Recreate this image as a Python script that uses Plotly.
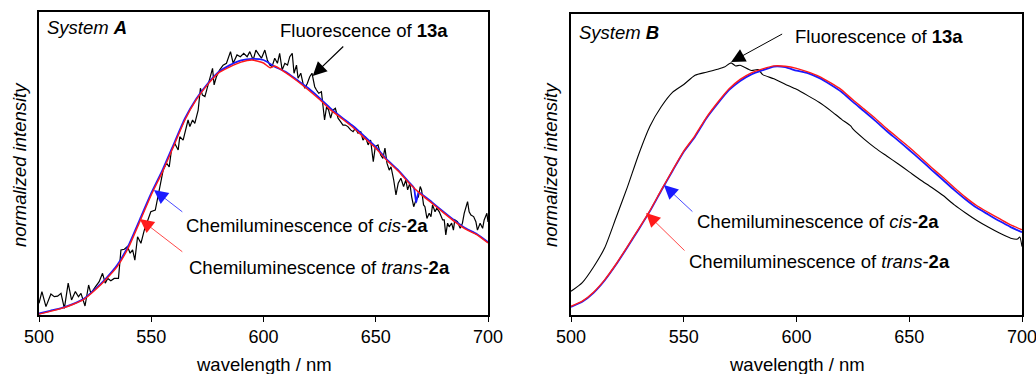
import plotly.graph_objects as go

# ---------------- Panel A (System A) ----------------
wl_A_fluor = [500.0, 501.3, 503.1, 505.3, 506.8, 508.3, 509.8, 511.3, 513.0, 514.5, 516.2, 517.6, 518.7,
              520.5, 522.1, 523.1, 525.1, 526.8, 528.3, 529.5, 530.6, 532.0, 533.5, 535.4, 536.5, 538.0,
              539.4, 540.6, 541.7, 542.7, 543.9, 545.4, 546.9, 548.3, 549.8, 551.8, 553.8, 555.3, 556.8,
              558.0, 559.0, 560.5, 562.0, 562.7, 564.2, 564.9, 566.4, 567.2, 568.4, 569.4, 570.9, 571.9,
              572.8, 573.9, 575.3, 576.4, 577.3, 578.0, 579.0, 580.5, 582.0, 583.5, 584.7, 585.3, 586.5,
              588.2, 589.7, 591.2, 592.7, 593.9, 595.4, 596.6, 598.0, 599.1, 600.6, 601.7, 602.8, 603.8,
              605.0, 606.2, 607.2, 608.3, 609.5, 610.7, 611.7, 612.8, 613.6, 614.7, 615.4, 616.6, 617.6,
              618.4, 619.5, 620.6, 621.6, 622.8, 623.6, 624.6, 625.8, 626.5, 627.2, 628.1, 629.0, 629.9,
              630.9, 632.0, 633.2, 634.4, 635.4, 636.4, 637.6, 638.8, 639.9, 640.9, 642.1, 643.3, 644.3,
              645.4, 646.6, 647.7, 648.3, 648.9, 649.8, 651.0, 652.2, 653.2, 654.1, 655.0, 656.0, 656.8,
              658.0, 659.0, 660.0, 661.2, 662.4, 663.4, 664.2, 665.2, 666.0, 666.9, 667.9, 669.0, 669.8,
              670.4, 671.3, 671.9, 672.8, 673.8, 674.6, 675.3, 676.4, 677.2, 678.3, 679.0, 679.8, 680.5,
              681.2, 682.0, 682.7, 683.8, 684.6, 685.2, 686.4, 687.6, 688.6, 689.4, 690.1, 690.9, 691.6,
              692.4, 693.6, 694.6, 695.3, 696.5, 697.6, 698.3, 699.5, 700.0]
int_A_fluor = [3.9, 7.8, 2.8, 7.0, 6.1, 6.3, 7.2, 2.2, 10.6, 5.0, 7.8, 6.1, 7.2,
               3.0, 10.0, 7.2, 9.4, 11.1, 13.9, 10.6, 12.2, 11.4, 12.2, 12.2, 21.7, 21.9,
               22.8, 20.6, 21.7, 18.3, 26.1, 23.9, 28.3, 31.1, 34.4, 35.0, 42.8, 48.3, 50.6,
               49.4, 55.0, 57.2, 55.0, 59.4, 58.3, 60.6, 65.0, 62.8, 65.0, 63.9, 68.3, 75.6,
               73.3, 72.8, 76.7, 78.9, 82.2, 76.7, 79.4, 81.7, 83.3, 83.9, 86.7, 87.8, 83.9,
               86.7, 86.1, 87.2, 86.1, 87.8, 85.0, 88.3, 86.7, 85.6, 88.3, 85.0, 83.3, 82.8,
               85.6, 83.9, 87.2, 81.7, 83.9, 83.3, 86.1, 87.2, 80.6, 83.3, 78.9, 80.6, 77.2,
               75.6, 77.2, 79.4, 80.6, 76.1, 75.0, 73.9, 74.4, 70.0, 65.0, 69.4, 68.3, 65.6,
               68.3, 68.9, 65.6, 64.4, 63.3, 63.3, 62.8, 61.7, 61.1, 62.2, 60.6, 61.1, 58.3,
               59.4, 56.7, 58.3, 53.9, 51.1, 56.1, 56.7, 53.3, 52.2, 55.6, 50.6, 48.3, 49.4,
               45.0, 40.0, 43.9, 45.6, 42.8, 45.0, 41.7, 43.9, 39.4, 36.1, 38.3, 39.4, 42.8,
               41.7, 36.7, 36.1, 32.2, 33.9, 32.8, 36.7, 34.4, 35.6, 34.4, 32.8, 31.7, 31.7,
               26.7, 30.6, 29.4, 30.6, 28.3, 31.7, 31.1, 28.9, 30.6, 33.9, 36.1, 37.8, 34.4,
               33.3, 32.8, 31.1, 28.3, 30.6, 28.9, 31.7, 33.9, 31.0]

wl_A_trans = [500, 505, 510, 515, 520, 525, 530, 535, 540, 545, 550, 555, 560, 565, 570, 575, 580,
              585, 590, 595, 600, 603, 605, 610, 615, 620, 625, 630, 635, 640, 645, 650, 655, 660,
              665, 670, 675, 680, 685, 690, 695, 700]
int_A_trans = [0.3, 1.2, 2.2, 3.5, 5.2, 8.3, 12.0, 16.3, 22.7, 31.3, 40.0, 47.7, 56.3, 65.0, 71.7,
               76.7, 80.7, 82.7, 84.3, 85.0, 84.0, 82.4, 83.0, 80.7, 78.0, 75.0, 71.8, 68.3, 65.4,
               62.4, 59.0, 55.6, 51.5, 48.0, 43.8, 40.3, 37.3, 34.2, 31.2, 28.6, 26.8, 24.0]

wl_A_cis = [500, 505, 510, 515, 520, 525, 530, 535, 540, 545, 550, 555, 560, 565, 570, 575, 580,
            585, 590, 595, 600, 605, 610, 615, 620, 625, 630, 635, 640, 645, 650, 655, 660,
            665, 667, 668, 669, 670, 675, 680, 685, 690, 695, 700]
int_A_cis = [0.5, 1.4, 2.3, 3.6, 5.4, 8.6, 12.3, 16.8, 23.4, 32.0, 40.6, 48.3, 56.9, 65.5, 72.0,
             77.0, 81.0, 83.3, 84.9, 85.4, 85.0, 82.8, 81.0, 78.3, 75.6, 72.3, 68.8, 65.8,
             62.9, 59.5, 56.0, 51.8, 48.3, 44.1, 42.4, 37.5, 40.8, 40.6, 37.6, 34.5, 31.5, 28.9, 27.0, 24.3]

# ---------------- Panel B (System B) ----------------
wl_B_fluor = [500, 505, 510, 515, 520, 525, 530, 535, 540, 545, 550, 555, 560, 565, 568, 571, 573,
              575, 580, 583, 585, 590, 595, 600, 605, 610, 615, 620, 624, 625, 630, 635, 640, 645,
              650, 655, 660, 665, 670, 675, 680, 685, 690, 695, 698, 699, 700]
int_B_fluor = [7.9, 10.8, 16.0, 22.5, 32.5, 42.6, 53.5, 62.9, 69.4, 74.2, 76.8, 79.9, 80.9, 81.9,
               82.6, 84.0, 83.0, 83.2, 81.5, 81.8, 80.1, 78.7, 76.9, 75.2, 73.1, 70.9, 68.2, 65.2,
               63.0, 62.0, 58.6, 55.6, 53.0, 50.4, 47.7, 45.0, 42.5, 39.8, 36.7, 34.0, 31.5, 29.3,
               27.3, 25.6, 25.3, 26.0, 22.8]

wl_B = [500, 505, 510, 515, 520, 525, 530, 535, 540, 545, 550, 555, 560, 565, 570, 575, 580, 585,
        590, 595, 600, 605, 610, 615, 620, 625, 630, 635, 640, 645, 650, 655, 660, 665, 670, 675,
        680, 685, 690, 695, 700]
int_B_trans = [2.9, 4.6, 7.6, 11.8, 17.0, 22.8, 28.7, 34.8, 41.6, 48.2, 54.6, 59.8, 65.8, 70.8,
               75.3, 78.5, 80.7, 82.0, 83.0, 82.9, 82.2, 81.0, 79.5, 77.4, 75.0, 71.7, 68.6, 65.5,
               62.1, 59.0, 55.9, 52.5, 49.1, 45.8, 42.4, 39.2, 36.4, 34.2, 32.1, 30.0, 28.4]
int_B_cis = [2.7, 4.4, 7.4, 11.6, 16.8, 22.6, 28.5, 34.6, 41.4, 48.0, 54.4, 59.4, 65.5, 70.4,
             74.9, 78.0, 80.2, 81.6, 82.8, 82.6, 81.4, 80.6, 79.0, 76.8, 74.3, 71.0, 67.9, 64.7,
             61.3, 58.2, 55.0, 51.7, 48.3, 45.0, 41.6, 38.5, 35.7, 33.5, 31.3, 29.3, 27.6]

x_ticks = [500, 550, 600, 650, 700]

FONT = "Liberation Sans, Arial, sans-serif"
FS = 18.5
BLUE = "#1a1aff"
RED = "#ff1a1a"

fig = go.Figure()

def add_panel(xa, ya, wl_f, f, wl_c, c, wl_t, t, fw, fshape):
    fig.add_trace(go.Scatter(x=wl_f, y=f, mode="lines",
                             line=dict(color="black", width=fw, shape=fshape, smoothing=0.6),
                             xaxis=xa, yaxis=ya, showlegend=False))
    fig.add_trace(go.Scatter(x=wl_c, y=c, mode="lines",
                             line=dict(color=BLUE, width=1.8, shape="spline", smoothing=0.5),
                             xaxis=xa, yaxis=ya, showlegend=False))
    fig.add_trace(go.Scatter(x=wl_t, y=t, mode="lines",
                             line=dict(color=RED, width=1.4, shape="spline", smoothing=0.5),
                             xaxis=xa, yaxis=ya, showlegend=False))

add_panel("x", "y", wl_A_fluor, int_A_fluor, wl_A_cis, int_A_cis, wl_A_trans, int_A_trans, 1.2, "linear")
add_panel("x2", "y2", wl_B_fluor, int_B_fluor, wl_B, int_B_cis, wl_B, int_B_trans, 1.1, "spline")

axis_common = dict(showline=True, linecolor="black", linewidth=1.5, mirror=True,
                   showgrid=False, zeroline=False)
xcommon = dict(axis_common, range=[500, 700], tickvals=x_ticks, ticks="outside", ticklen=5,
               tickwidth=1.2, tickcolor="black", automargin=False, ticklabeloverflow="allow",
               tickfont=dict(family=FONT, size=18, color="black"))
ycommon = dict(axis_common, showticklabels=False, ticks="", automargin=False)

fig.update_layout(
    width=1036, height=374,
    margin=dict(l=0, r=0, t=0, b=0, pad=0, autoexpand=False),
    paper_bgcolor="white", plot_bgcolor="white",
    xaxis=dict(xcommon, domain=[39 / 1036, 488 / 1036], anchor="y"),
    yaxis=dict(ycommon, domain=[59 / 374, 362 / 374], range=[0, 101], anchor="x"),
    xaxis2=dict(xcommon, domain=[571 / 1036, 1022 / 1036], anchor="y2"),
    yaxis2=dict(ycommon, domain=[59 / 374, 360 / 374], range=[0, 100.3], anchor="x2"),
    font=dict(family=FONT, size=FS, color="black"),
)

ann = []
tf = dict(family=FONT, size=FS, color="black")

def label(xref, yref, x, y, text):
    ann.append(dict(xref=xref, yref=yref, x=x, y=y, text=text, showarrow=False,
                    xanchor="left", yanchor="middle", font=tf))

def arrow(xref, yref, x, y, ax, ay, color, width):
    ann.append(dict(xref=xref, yref=yref, axref=xref, ayref=yref, x=x, y=y, ax=ax, ay=ay,
                    text="", showarrow=True, arrowhead=2, arrowsize=2.8 / width,
                    arrowwidth=width, arrowcolor=color))

# Panel A texts
label("x", "y", 502.6, 95.7, "<i>System <b>A</b></i>")
label("x", "y", 606.3, 95.0, "Fluorescence of <b>13a</b>")
label("x", "y", 564.5, 29.7, "Chemiluminescence of <i>cis</i>-<b>2a</b>")
label("x", "y", 565.8, 16.0, "Chemiluminescence of <i>trans</i>-<b>2a</b>")
arrow("x", "y", 621.9, 79.7, 636.2, 90.0, "black", 1.2)
arrow("x", "y", 551.2, 41.7, 564.5, 34.0, BLUE, 0.8)
arrow("x", "y", 544.9, 32.0, 564.5, 20.7, RED, 0.8)

# Panel B texts
label("x2", "y2", 502.6, 94.3, "<i>System <b>B</b></i>")
label("x2", "y2", 598.4, 92.7, "Fluorescence of <b>13a</b>")
label("x2", "y2", 554.9, 31.0, "Chemiluminescence of <i>cis</i>-<b>2a</b>")
label("x2", "y2", 551.4, 17.7, "Chemiluminescence of <i>trans</i>-<b>2a</b>")
arrow("x2", "y2", 571.0, 84.3, 594.3, 93.9, "black", 1.0)
arrow("x2", "y2", 541.2, 43.3, 554.5, 34.0, BLUE, 0.8)
arrow("x2", "y2", 533.3, 34.0, 551.0, 21.0, RED, 0.8)

# Axis titles
for xc, yc in [(19, 165), (550, 165)]:
    ann.append(dict(xref="paper", yref="paper", x=xc / 1036, y=(374 - yc) / 374,
                    text="<i>normalized intensity</i>", showarrow=False, textangle=-90,
                    xanchor="center", yanchor="middle", font=tf))
for xc in [263.5, 796.5]:
    ann.append(dict(xref="paper", yref="paper", x=xc / 1036, y=(374 - 364) / 374,
                    text="wavelength / nm", showarrow=False,
                    xanchor="center", yanchor="middle", font=tf))

fig.update_layout(annotations=ann)
fig.write_html("out.html", config={"displayModeBar": False},
               post_script="document.body.style.margin='0';document.body.style.overflow='hidden';")
